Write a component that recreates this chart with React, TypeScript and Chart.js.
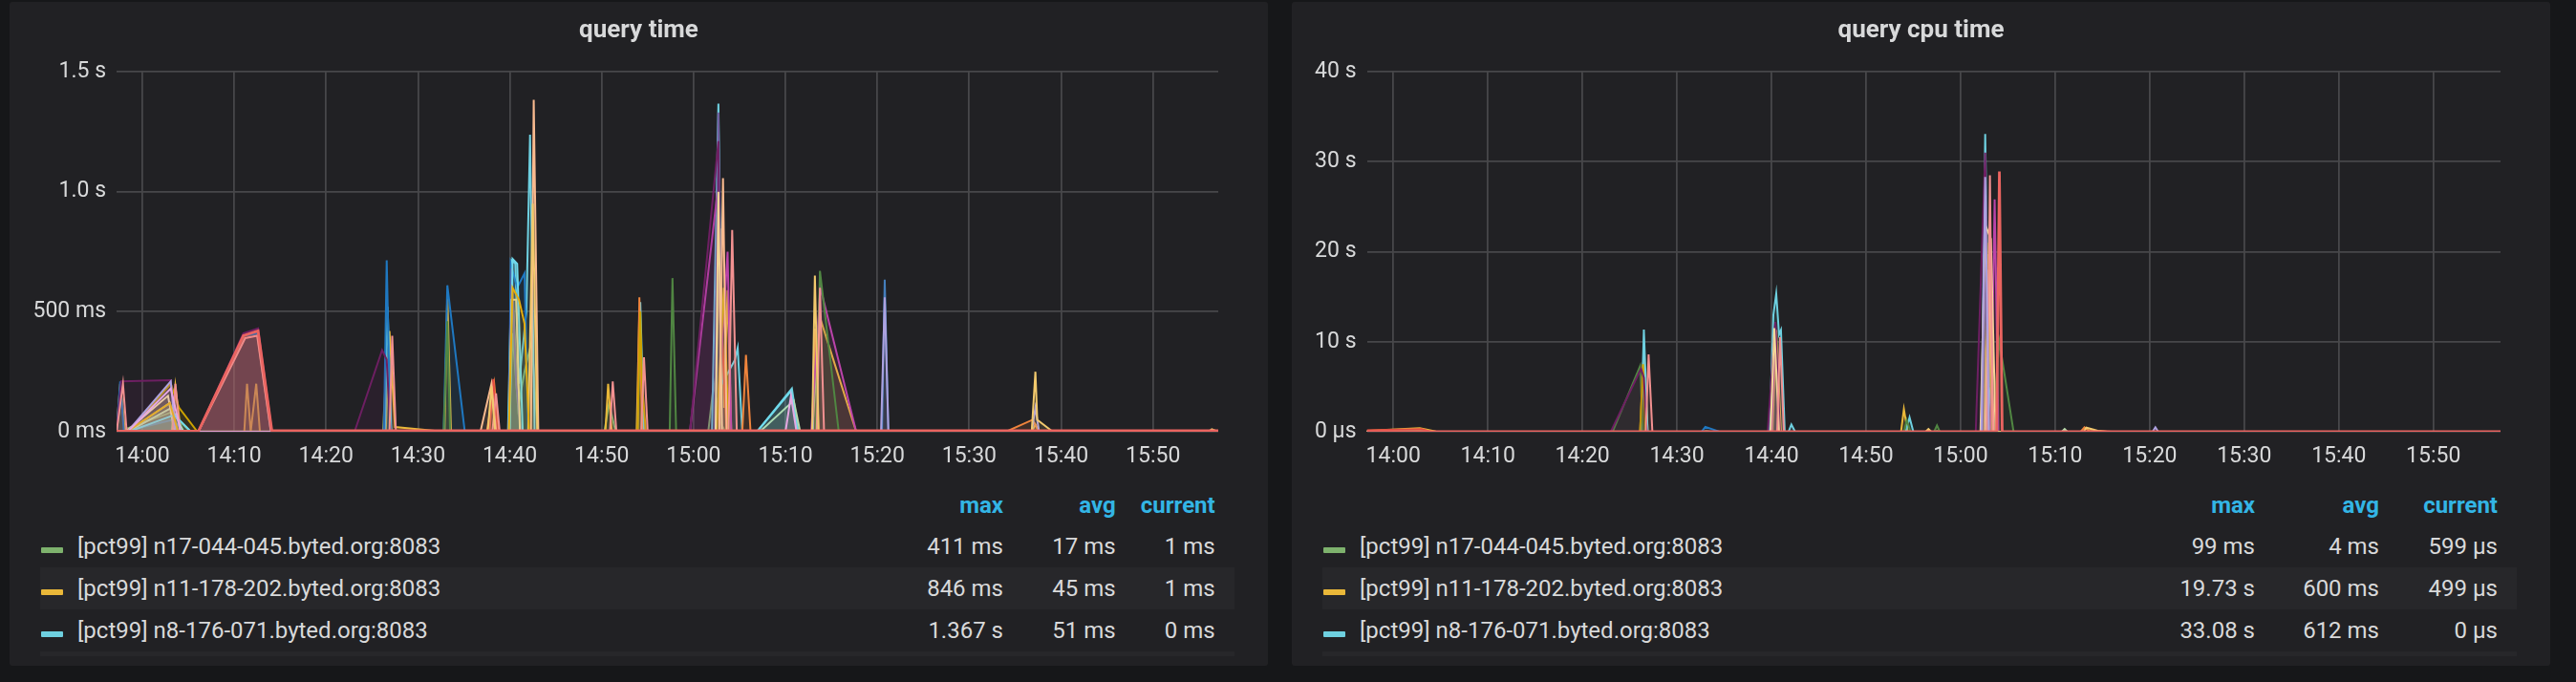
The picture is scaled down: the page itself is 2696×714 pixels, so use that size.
import React, { useEffect, useRef } from 'react';
import { Chart, registerables } from 'chart.js';

Chart.register(...registerables);

const FONT = 'Roboto, "Helvetica Neue", Arial, sans-serif';
const TEXT = '#d8d9da';
const GRID = '#47474a';
const HEAD = '#33b5e5';

// x values are minutes after 14:00
const xMin = -2.8;
const xMax = 117.1;
const xTickMinutes = [0, 10, 20, 30, 40, 50, 60, 70, 80, 90, 100, 110];
const xTickLabels = ['14:00', '14:10', '14:20', '14:30', '14:40', '14:50', '15:00', '15:10', '15:20', '15:30', '15:40', '15:50'];

const qtYTicks = [0, 0.5, 1.0, 1.5];
const qtYLabels = ['0 ms', '500 ms', '1.0 s', '1.5 s'];
const cpuYTicks = [0, 10, 20, 30, 40];
const cpuYLabels = ['0 µs', '10 s', '20 s', '30 s', '40 s'];

const legendNames = [
  '[pct99] n17-044-045.byted.org:8083',
  '[pct99] n11-178-202.byted.org:8083',
  '[pct99] n8-176-071.byted.org:8083',
  '[pct99] n8-176-072.byted.org:8083',
];
const legendColors = ['#7EB26D', '#EAB839', '#6ED0E0', '#EF843C'];
const qtMax = ['411 ms', '846 ms', '1.367 s', '1.383 s'];
const qtAvg = ['17 ms', '45 ms', '51 ms', '48 ms'];
const qtCur = ['1 ms', '1 ms', '0 ms', '1 ms'];
const cpuMax = ['99 ms', '19.73 s', '33.08 s', '500 ms'];
const cpuAvg = ['4 ms', '600 ms', '612 ms', '8 ms'];
const cpuCur = ['599 µs', '499 µs', '0 µs', '0 µs'];

// ---- query time series: [minute, seconds] ----
const qtN17 = [[-2.8, 0.003], [-2.3, 0.15], [-1.9, 0.01], [3.1, 0.08], [5.2, 0.002], [26.2, 0.002], [26.6, 0.3], [27.1, 0.002], [39.9, 0.003], [40.3, 0.411], [40.9, 0.1], [41.6, 0.25], [42.4, 0.38], [43.0, 0.002], [50.3, 0.002], [50.8, 0.12], [51.5, 0.002], [61.6, 0.002], [62.2, 0.2], [62.8, 0.05], [63.4, 0.002], [117.1, 0.001]];
const qtN11 = [[-2.8, 0.002], [-2.4, 0.2], [-1.9, 0.0], [3.2, 0.0], [3.6, 0.19], [4.2, 0], [11.1, 0], [11.4, 0.2], [11.8, 0], [12.4, 0.2], [12.8, 0], [26.5, 0], [26.9, 0.42], [27.5, 0.02], [32.9, 0], [33.2, 0.57], [33.6, 0], [39.9, 0], [40.2, 0.63], [40.8, 0.2], [41.2, 0], [50.4, 0], [50.7, 0.2], [51.1, 0], [53.8, 0], [54.1, 0.5], [54.5, 0], [62.3, 0], [62.9, 0.846], [63.3, 0.1], [63.7, 0.59], [64.1, 0], [72.9, 0], [73.8, 0.47], [77.7, 0], [96.8, 0], [97.2, 0.03], [97.6, 0], [117.1, 0.001]];
const qtN8 = [[-2.8, 0], [-1.6, 0.0], [3.0, 0.12], [3.8, 0.0], [26.4, 0], [26.7, 0.52], [27.1, 0], [39.8, 0], [40.2, 0.714], [40.6, 0.7], [41.0, 0.2], [41.8, 0.5], [42.2, 1.237], [42.7, 0], [53.9, 0], [54.2, 0.54], [54.6, 0], [62.0, 0], [62.7, 1.367], [63.1, 0.2], [64.5, 0.3], [64.8, 0.35], [65.3, 0], [66.9, 0], [70.7, 0.18], [71.4, 0], [73.0, 0], [73.2, 0.43], [73.5, 0], [117.1, 0.0]];
const qtS3 = [[-2.8, 0], [6.1, 0], [11.1, 0.4], [12.5, 0.41], [14.0, 0], [37.5, 0], [38.3, 0.2], [38.8, 0], [53.9, 0], [54.1, 0.56], [54.4, 0], [65.3, 0], [65.7, 0.32], [66.2, 0], [72.9, 0], [73.2, 0.43], [73.6, 0], [94.0, 0], [96.9, 0.05], [97.6, 0], [117.1, 0.001]];
const qtS4 = [[-2.8, 0], [6.1, 0], [11.0, 0.4], [12.6, 0.42], [14.1, 0], [37.8, 0], [38.2, 0.22], [38.6, 0], [62.5, 0], [63.1, 0.4], [63.6, 0], [117.1, 0]];
const qtS5 = [[-2.8, 0], [-2.4, 0.21], [-2.0, 0], [3.3, 0.05], [4.6, 0], [6.1, 0], [11.0, 0.4], [12.6, 0.41], [14.0, 0], [26.3, 0], [26.6, 0.714], [27.0, 0], [32.8, 0], [33.2, 0.61], [35.1, 0], [39.9, 0], [40.1, 0.7], [40.8, 0.6], [41.6, 0.66], [42.0, 0], [117.1, 0]];
const qtS6 = [[-2.8, 0], [59.6, 0], [62.6, 1.0], [63.0, 0.3], [63.7, 0.75], [64.1, 0], [72.8, 0], [73.8, 0.6], [77.7, 0], [117.1, 0]];
const qtS7 = [[-2.8, 0], [39.9, 0], [40.2, 0.68], [40.7, 0.2], [41.2, 0], [62.3, 0], [62.7, 1.33], [63.1, 0], [117.1, 0]];
const qtS8 = [[-2.8, 0], [32.8, 0], [33.2, 0.46], [33.5, 0], [57.4, 0], [57.7, 0.64], [58.1, 0], [73.3, 0], [73.75, 0.67], [75.8, 0], [117.1, 0]];
const qtS9 = [[-2.8, 0], [-1.5, 0], [3.1, 0.2], [4.0, 0.1], [6.0, 0], [53.9, 0], [54.2, 0.5], [54.4, 0.2], [54.8, 0], [62.5, 0], [63.3, 0.6], [63.8, 0], [117.1, 0]];
const qtS10 = [[-2.8, 0], [80.5, 0], [80.8, 0.634], [81.2, 0], [117.1, 0]];
const qtS11 = [[-2.8, 0], [-2.3, 0.21], [3.1, 0.215], [3.6, 0], [6.1, 0], [11.0, 0.41], [12.6, 0.43], [14.1, 0], [23.1, 0], [26.1, 0.34], [26.6, 0.3], [27.0, 0], [59.6, 0], [62.7, 1.21], [63.1, 0], [117.1, 0]];
const qtS12 = [[-2.8, 0], [-1.6, 0], [3.2, 0.1], [4.5, 0], [67.2, 0], [70.9, 0.13], [71.6, 0], [117.1, 0]];
const qtS13 = [[-2.8, 0], [-1.8, 0], [2.8, 0.15], [3.5, 0], [39.9, 0], [40.2, 0.55], [40.7, 0.55], [41.1, 0], [62.4, 0], [62.7, 1.0], [63.1, 0], [117.1, 0]];
const qtS14 = [[-2.8, 0], [-1.5, 0], [3.5, 0.07], [5.3, 0], [40.0, 0], [40.3, 0.72], [40.8, 0.7], [41.4, 0], [66.9, 0], [70.6, 0.17], [71.3, 0], [117.1, 0]];
const qtS15 = [[-2.8, 0], [36.8, 0], [38.0, 0.2], [38.5, 0], [42.3, 0], [42.6, 1.383], [43.1, 0], [62.8, 0], [63.2, 1.056], [63.6, 0], [117.1, 0]];
const qtS16 = [[-2.8, 0], [-2.1, 0.2], [-1.7, 0], [3.3, 0], [3.6, 0.2], [4.1, 0], [6.1, 0], [11.2, 0.39], [12.5, 0.4], [14.0, 0], [26.9, 0], [27.2, 0.40], [27.6, 0], [38.1, 0], [38.5, 0.16], [38.9, 0], [50.9, 0], [51.2, 0.21], [51.6, 0], [54.3, 0], [54.6, 0.31], [55.0, 0], [63.8, 0], [64.2, 0.84], [64.7, 0], [73.4, 0], [73.75, 0.6], [74.2, 0], [117.1, 0]];
const qtS17 = [[-2.8, 0], [-1.6, 0], [3.1, 0.21], [3.6, 0], [80.4, 0], [80.8, 0.56], [81.2, 0], [96.8, 0], [97.2, 0.1], [97.6, 0], [117.1, 0]];
const qtS18 = [[-2.8, 0], [37.6, 0], [38.0, 0.19], [38.4, 0], [42.0, 0], [42.5, 0.95], [43.0, 0], [72.9, 0], [73.2, 0.65], [73.6, 0], [96.8, 0], [97.2, 0.25], [97.4, 0.05], [99.1, 0], [116.0, 0], [116.4, 0.01], [117.1, 0]];
const qtS19 = [[-2.8, 0], [-1.7, 0], [3.0, 0.12], [3.9, 0], [39.9, 0], [40.3, 0.6], [41.0, 0.55], [41.6, 0.45], [42.1, 0], [117.1, 0]];
const qtS20 = [[-2.8, 0], [-1.6, 0], [3.1, 0.18], [4.2, 0], [70.0, 0], [70.6, 0.15], [71.2, 0], [117.1, 0]];
const qtS21 = [[-2.8, 0.002], [6.1, 0.002], [11.0, 0.4], [12.6, 0.42], [14.1, 0.004], [117.1, 0.004]];

// ---- query cpu time series: [minute, seconds] ----
const cpuN17 = [[-2.8, 0.05], [2.8, 0.099], [4.5, 0.01], [32.7, 0.001], [33.1, 0.09], [33.6, 0.001], [57.2, 0.001], [57.5, 0.08], [57.8, 0.001], [117.1, 0.0006]];
const cpuN11 = [[-2.8, 0.1], [2.8, 0.4], [4.5, 0.02], [26.1, 0.001], [26.5, 8.9], [26.9, 0.001], [40.1, 0.001], [40.5, 11.3], [41.0, 0.001], [53.7, 0.001], [54.0, 2.5], [54.4, 0.001], [62.4, 0.001], [62.9, 19.73], [63.3, 0.001], [117.1, 0.0005]];
const cpuN8 = [[-2.8, 0], [26.2, 0], [26.5, 11.35], [26.9, 0], [39.8, 0], [40.2, 13.0], [40.5, 15.35], [40.8, 10.8], [41.0, 11.3], [41.4, 0], [41.8, 0], [42.1, 0.8], [42.5, 0], [54.2, 0], [54.6, 1.6], [55.0, 0], [62.2, 0], [62.6, 33.08], [63.0, 5.0], [63.4, 0], [117.1, 0]];
const cpuS3 = [[-2.8, 0], [72.7, 0], [73.1, 0.5], [73.6, 0.1], [76.0, 0], [117.1, 0]];
const cpuS4 = [[-2.8, 0.15], [3.0, 0.3], [4.0, 0], [117.1, 0]];
const cpuS5 = [[-2.8, 0], [32.6, 0], [33.0, 0.55], [34.5, 0], [117.1, 0]];
const cpuS6 = [[-2.8, 0], [40.0, 0], [40.4, 12.0], [40.8, 0], [63.2, 0], [63.6, 25.8], [64.0, 0], [117.1, 0]];
const cpuS7 = [[-2.8, 0], [62.3, 0], [62.6, 20.0], [62.9, 0], [117.1, 0]];
const cpuS8 = [[-2.8, 0], [23.2, 0], [26.1, 7.3], [26.4, 0], [54.0, 0], [54.3, 1.3], [54.7, 0], [57.2, 0], [57.5, 0.7], [57.8, 0], [63.3, 0], [64.1, 10.0], [65.6, 0], [117.1, 0]];
const cpuS9 = [[-2.8, 0], [26.1, 0], [26.4, 7.5], [26.7, 0], [62.6, 0], [63.0, 21.0], [63.4, 0], [117.1, 0]];
const cpuS10 = [[-2.8, 0], [23.0, 0], [26.2, 7.0], [26.5, 6.0], [26.8, 0], [39.6, 0], [40.4, 12.2], [40.9, 0], [61.6, 0], [62.6, 31.0], [63.0, 0], [117.1, 0]];
const cpuS11 = [[-2.8, 0], [39.9, 0], [40.3, 11.5], [40.8, 0], [62.1, 0], [62.6, 23.0], [63.2, 21.4], [63.7, 0], [117.1, 0]];
const cpuS12 = [[-2.8, 0], [62.6, 0], [63.0, 18.0], [63.5, 0], [117.1, 0]];
const cpuS13 = [[-2.8, 0], [26.7, 0], [27.0, 8.6], [27.4, 0], [40.6, 0], [40.9, 10.5], [41.3, 0], [62.8, 0], [63.1, 28.5], [63.4, 0], [117.1, 0]];
const cpuS14 = [[-2.8, 0], [62.2, 0], [62.6, 28.3], [63.0, 0], [80.3, 0], [80.6, 0.5], [80.9, 0], [117.1, 0]];
const cpuS15 = [[-2.8, 0], [70.7, 0], [71.0, 0.3], [71.3, 0], [117.1, 0]];
const cpuS16 = [[-2.8, 0], [56.3, 0], [56.6, 0.3], [56.9, 0], [73.0, 0], [73.3, 0.45], [74.5, 0.1], [75.5, 0], [117.1, 0]];
const cpuS17 = [[-2.8, 0.001], [63.8, 0.001], [64.1, 28.9], [64.4, 0.001], [117.1, 0.001]];

type Series = { name: string; color: string; points: number[][] };

const qtSeries: Series[] = [
  { name: legendNames[0], color: '#7EB26D', points: qtN17 },
  { name: legendNames[1], color: '#EAB839', points: qtN11 },
  { name: legendNames[2], color: '#6ED0E0', points: qtN8 },
  { name: 's3', color: '#EF843C', points: qtS3 },
  { name: 's4', color: '#E24D42', points: qtS4 },
  { name: 's5', color: '#1F78C1', points: qtS5 },
  { name: 's6', color: '#BA43A9', points: qtS6 },
  { name: 's7', color: '#705DA0', points: qtS7 },
  { name: 's8', color: '#508642', points: qtS8 },
  { name: 's9', color: '#CCA300', points: qtS9 },
  { name: 's10', color: '#447EBC', points: qtS10 },
  { name: 's11', color: '#6D1F62', points: qtS11 },
  { name: 's12', color: '#B7DBAB', points: qtS12 },
  { name: 's13', color: '#F4D598', points: qtS13 },
  { name: 's14', color: '#70DBED', points: qtS14 },
  { name: 's15', color: '#F9BA8F', points: qtS15 },
  { name: 's16', color: '#F29191', points: qtS16 },
  { name: 's17', color: '#AEA2E0', points: qtS17 },
  { name: 's18', color: '#F2C96D', points: qtS18 },
  { name: 's19', color: '#E5AC0E', points: qtS19 },
  { name: 's20', color: '#E5A8E2', points: qtS20 },
  { name: 's21', color: '#EA6460', points: qtS21 },
];

const cpuSeries: Series[] = [
  { name: legendNames[0], color: '#7EB26D', points: cpuN17 },
  { name: legendNames[1], color: '#EAB839', points: cpuN11 },
  { name: legendNames[2], color: '#6ED0E0', points: cpuN8 },
  { name: 's3', color: '#EF843C', points: cpuS3 },
  { name: 's4', color: '#E24D42', points: cpuS4 },
  { name: 's5', color: '#1F78C1', points: cpuS5 },
  { name: 's6', color: '#BA43A9', points: cpuS6 },
  { name: 's7', color: '#705DA0', points: cpuS7 },
  { name: 's8', color: '#508642', points: cpuS8 },
  { name: 's9', color: '#CCA300', points: cpuS9 },
  { name: 's10', color: '#6D1F62', points: cpuS10 },
  { name: 's11', color: '#F4D598', points: cpuS11 },
  { name: 's12', color: '#F9BA8F', points: cpuS12 },
  { name: 's13', color: '#F29191', points: cpuS13 },
  { name: 's14', color: '#AEA2E0', points: cpuS14 },
  { name: 's15', color: '#B7DBAB', points: cpuS15 },
  { name: 's16', color: '#F2C96D', points: cpuS16 },
  { name: 's17', color: '#EA6460', points: cpuS17 },
];

const PANEL_W = 1317;
const CANVAS_H = 500;

type PanelProps = {
  left: number;
  title: string;
  series: Series[];
  yMax: number;
  yTicks: number[];
  yLabels: string[];
  yAxisWidth: number;
  maxVals: string[];
  avgVals: string[];
  curVals: string[];
  maxRight: number;
  avgW: number;
  curW: number;
};

function Panel(p: PanelProps) {
  const ref = useRef<HTMLCanvasElement | null>(null);
  useEffect(() => {
    if (!ref.current) return;
    const n = p.series.length;
    const chart = new Chart(ref.current, {
      type: 'line',
      data: {
        datasets: p.series.map((s, i) => ({
          label: s.name,
          data: s.points.map(([x, y]) => ({ x, y })),
          borderColor: s.color,
          backgroundColor: s.color + '21',
          borderWidth: i === n - 1 ? 2.8 : 2,
          fill: 'origin',
          pointRadius: 0,
          tension: 0,
          order: n - i,
        })),
      },
      options: {
        animation: false,
        responsive: false,
        maintainAspectRatio: false,
        devicePixelRatio: 1,
        layout: { padding: { top: 73, right: PANEL_W - 1265, bottom: 10, left: 0 } },
        plugins: { legend: { display: false }, tooltip: { enabled: false }, title: { display: false } },
        scales: {
          x: {
            type: 'linear',
            min: xMin,
            max: xMax,
            border: { display: false },
            grid: { color: GRID, lineWidth: 1.8, drawTicks: false },
            ticks: {
              color: TEXT,
              font: { family: FONT, size: 23 },
              padding: 12,
              maxRotation: 0,
              autoSkip: false,
              includeBounds: false,
              callback: (v: any) => {
                const k = xTickMinutes.indexOf(Number(v));
                return k >= 0 ? xTickLabels[k] : '';
              },
            },
            afterBuildTicks: (s: any) => {
              s.ticks = xTickMinutes.map((v) => ({ value: v }));
            },
            afterFit: (s: any) => {
              s.height = 40;
            },
          },
          y: {
            type: 'linear',
            min: 0,
            max: p.yMax,
            border: { display: false },
            grid: { color: GRID, lineWidth: 1.8, drawTicks: false },
            ticks: {
              color: TEXT,
              font: { family: FONT, size: 23 },
              padding: 11,
              callback: (v: any) => {
                const k = p.yTicks.indexOf(Number(v));
                return k >= 0 ? p.yLabels[k] : '';
              },
            },
            afterBuildTicks: (s: any) => {
              s.ticks = p.yTicks.map((v) => ({ value: v }));
            },
            afterFit: (s: any) => {
              s.width = p.yAxisWidth;
            },
          },
        },
      },
    } as any);
    return () => chart.destroy();
  }, []);

  const contW = 1250;
  const rowStyle = (i: number): React.CSSProperties => ({
    position: 'absolute',
    left: 0,
    top: 42 + i * 44,
    width: contW,
    height: 44,
    lineHeight: '44px',
    background: i % 2 === 1 ? '#27272a' : 'transparent',
  });
  const cell = (right: number, w: number): React.CSSProperties => ({
    position: 'absolute',
    left: right - w,
    width: w,
    top: 0,
    textAlign: 'right',
    whiteSpace: 'nowrap',
  });
  const maxR = p.maxRight - 32;
  const avgR = maxR + p.avgW;
  const curR = avgR + p.curW;

  return (
    <div
      style={{
        position: 'absolute',
        left: p.left,
        top: 2,
        width: PANEL_W,
        height: 695,
        background: '#212124',
        borderRadius: 3,
        overflow: 'hidden',
        fontFamily: FONT,
      }}
    >
      <canvas ref={ref} width={PANEL_W} height={CANVAS_H} style={{ position: 'absolute', left: 0, top: 0 }} />
      <div
        style={{
          position: 'absolute',
          left: 0,
          width: PANEL_W,
          top: 13,
          textAlign: 'center',
          fontWeight: 'bold',
          fontSize: 26,
          lineHeight: '30px',
          color: TEXT,
        }}
      >
        {p.title}
      </div>
      <div
        style={{
          position: 'absolute',
          left: 32,
          top: 506,
          width: contW,
          height: 179,
          overflow: 'hidden',
          fontSize: 24,
          color: TEXT,
        }}
      >
        <div style={{ position: 'absolute', left: 0, top: 0, width: contW, height: 42, lineHeight: '42px', color: HEAD, fontWeight: 'bold' }}>
          <span style={cell(maxR, 120)}>max</span>
          <span style={cell(avgR, 120)}>avg</span>
          <span style={cell(curR, 120)}>current</span>
        </div>
        {legendNames.map((name, i) => (
          <div key={i} style={rowStyle(i)}>
            <div
              style={{
                position: 'absolute',
                left: 1,
                top: 23,
                width: 23,
                height: 6,
                borderRadius: 1,
                background: legendColors[i],
              }}
            />
            <span style={{ position: 'absolute', left: 39, top: 0, whiteSpace: 'nowrap' }}>{name}</span>
            <span style={cell(maxR, 120)}>{p.maxVals[i]}</span>
            <span style={cell(avgR, 120)}>{p.avgVals[i]}</span>
            <span style={cell(curR, 120)}>{p.curVals[i]}</span>
          </div>
        ))}
      </div>
    </div>
  );
}

export default function App() {
  return (
    <div style={{ position: 'fixed', left: 0, top: 0, width: 2696, height: 714, background: '#161719', overflow: 'hidden' }}>
      <Panel
        left={10}
        title="query time"
        series={qtSeries}
        yMax={1.5}
        yTicks={qtYTicks}
        yLabels={qtYLabels}
        yAxisWidth={112}
        maxVals={qtMax}
        avgVals={qtAvg}
        curVals={qtCur}
        maxRight={1040}
        avgW={117.7}
        curW={104}
      />
      <Panel
        left={1352}
        title="query cpu time"
        series={cpuSeries}
        yMax={40}
        yTicks={cpuYTicks}
        yLabels={cpuYLabels}
        yAxisWidth={78.5}
        maxVals={cpuMax}
        avgVals={cpuAvg}
        curVals={cpuCur}
        maxRight={1008}
        avgW={130}
        curW={124}
      />
    </div>
  );
}
